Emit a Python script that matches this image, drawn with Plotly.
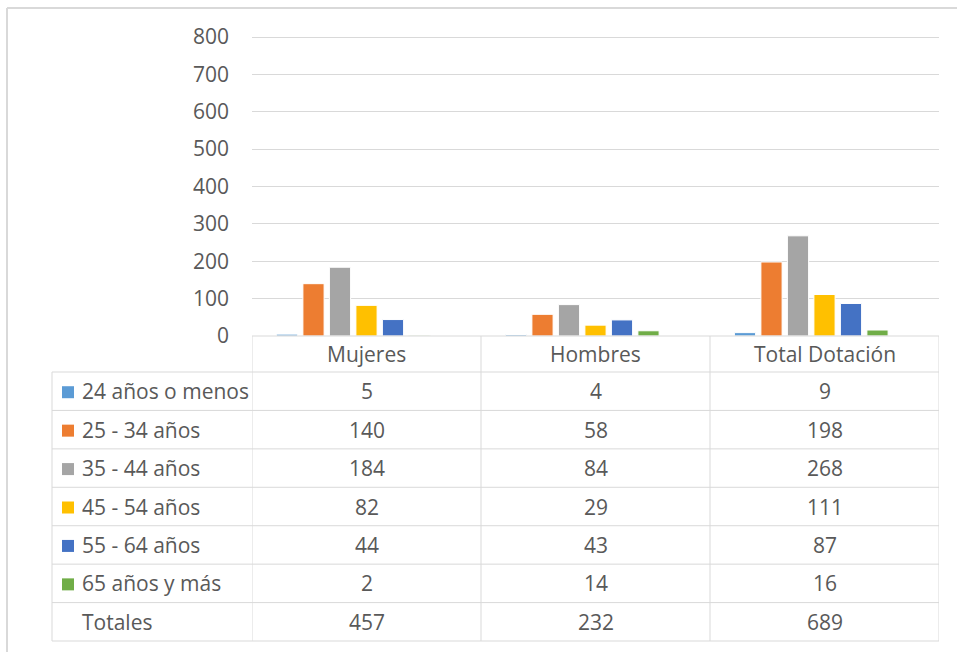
import plotly.graph_objects as go

categories = ["Mujeres", "Hombres", "Total Dotación"]
series_names = ["24 años o menos", "25 - 34 años", "35 - 44 años",
                "45 - 54 años", "55 - 64 años", "65 años y más"]
v_24 = [5, 4, 9]
v_25_34 = [140, 58, 198]
v_35_44 = [184, 84, 268]
v_45_54 = [82, 29, 111]
v_55_64 = [44, 43, 87]
v_65 = [2, 14, 16]
totales = [457, 232, 689]
y_ticks = [0, 100, 200, 300, 400, 500, 600, 700, 800]

series_values = [v_24, v_25_34, v_35_44, v_45_54, v_55_64, v_65]
colors = ["#5B9BD5", "#ED7D31", "#A5A5A5", "#FFC000", "#4472C4", "#70AD47"]

W, H = 957, 652
L, R, T, B = 252, 939, 33, 336   # plot area pixel box
PW, PH = R - L, B - T
FONT = "Open Sans"
TXT = "#595959"
GRID = "#d9d9d9"
FS = 21
Y_MAX = 800 * PH / 299.0  # 800 line sits at pixel 37, inside the top edge

def px(X):
    return (X - L) / PW

def py(Y):
    return (B - Y) / PH

fig = go.Figure()
for name, vals, col in zip(series_names, series_values, colors):
    fig.add_trace(go.Bar(name=name, x=categories, y=vals,
                         marker=dict(color=col, line=dict(color="white", width=1))))
fig.add_trace(go.Bar(name="Totales", x=categories, y=totales,
                     marker=dict(color="rgba(0,0,0,0)", line=dict(width=0)),
                     showlegend=False, hoverinfo="skip"))

shapes = []
annotations = []

header_top, header_bot = 336, 372
row_h = 38.43
table_left = 52
n_rows = len(series_names) + 1
row_edges = [header_bot + i * row_h for i in range(n_rows + 1)]
table_bottom = row_edges[-1]

line = dict(color=GRID, width=1)
shapes.append(dict(type="line", xref="paper", yref="paper", x0=px(L), x1=px(R),
                   y0=py(header_top), y1=py(header_top), line=line, layer="above"))
for yy in row_edges:
    shapes.append(dict(type="line", xref="paper", yref="paper", x0=px(table_left), x1=px(R),
                       y0=py(yy), y1=py(yy), line=line))
for k in range(len(categories) + 1):
    xb = k - 0.5
    shapes.append(dict(type="line", xref="x", yref="paper", x0=xb, x1=xb,
                       y0=py(header_top), y1=py(table_bottom), line=line))
shapes.append(dict(type="line", xref="paper", yref="paper", x0=px(table_left), x1=px(table_left),
                   y0=py(header_bot), y1=py(table_bottom), line=line))

shapes.append(dict(type="line", xref="paper", yref="paper", x0=px(7), x1=px(7),
                   y0=py(8), y1=py(H + 5), line=dict(color=GRID, width=2)))
shapes.append(dict(type="line", xref="paper", yref="paper", x0=px(7), x1=px(W + 5),
                   y0=py(8), y1=py(8), line=dict(color=GRID, width=2)))

for i, c in enumerate(categories):
    annotations.append(dict(x=i, xref="x", y=py((header_top + header_bot) / 2), yref="paper",
                            text=c, showarrow=False, xanchor="center", yanchor="middle",
                            font=dict(family=FONT, size=FS, color=TXT)))

row_labels = series_names + ["Totales"]
row_vals = series_values + [totales]
for r, (lab, vals) in enumerate(zip(row_labels, row_vals)):
    yc = (row_edges[r] + row_edges[r + 1]) / 2
    annotations.append(dict(x=px(80), xref="paper", y=py(yc), yref="paper", text=lab,
                            showarrow=False, xanchor="left", yanchor="middle",
                            font=dict(family=FONT, size=FS, color=TXT)))
    if r < len(colors):
        shapes.append(dict(type="rect", xref="paper", yref="paper",
                           x0=px(62), x1=px(74), y0=py(yc - 5), y1=py(yc + 7),
                           fillcolor=colors[r], line=dict(width=0)))
    for i, v in enumerate(vals):
        annotations.append(dict(x=i, xref="x", y=py(yc), yref="paper", text=str(v),
                                showarrow=False, xanchor="center", yanchor="middle",
                                font=dict(family=FONT, size=FS, color=TXT)))

fig.update_layout(
    width=W, height=H,
    margin=dict(l=L, r=W - R, t=T, b=H - B, pad=0),
    paper_bgcolor="white", plot_bgcolor="white",
    barmode="group", bargap=0.19, bargroupgap=0.2,
    showlegend=False,
    font=dict(family=FONT, size=FS, color=TXT),
    xaxis=dict(range=[-0.5, 2.5], showticklabels=False, showgrid=False,
               zeroline=False, showline=False, ticks=""),
    yaxis=dict(range=[0, Y_MAX], tickvals=y_ticks, showgrid=True, gridcolor=GRID,
               gridwidth=1, zeroline=False, showline=False, ticks="",
               ticklabelstandoff=22,
               tickfont=dict(family=FONT, size=FS, color=TXT)),
    shapes=shapes, annotations=annotations,
)

fig.write_html("out.html", config={"displayModeBar": False},
               post_script="document.body.style.margin='0';")
